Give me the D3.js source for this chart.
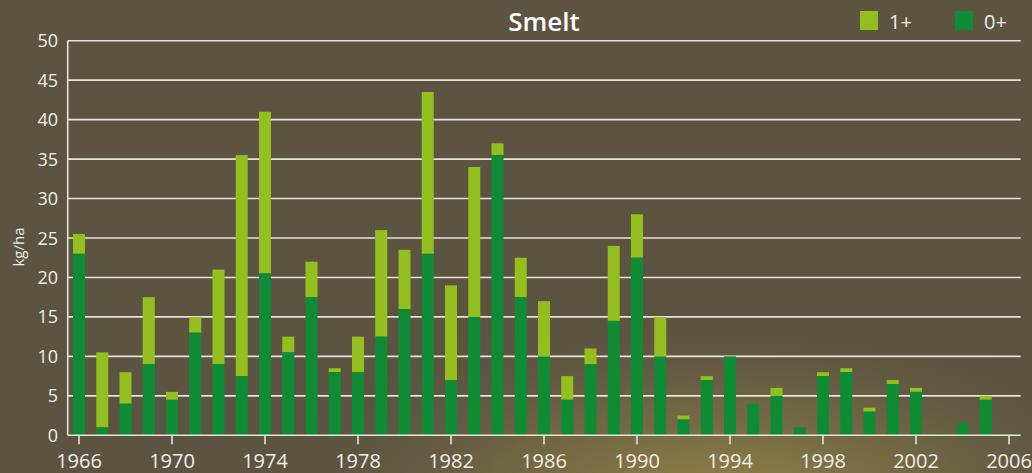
<!DOCTYPE html>
<html>
<head>
<meta charset="utf-8">
<script src="https://cdn.jsdelivr.net/npm/d3@7"></script>
<style>
  body { margin: 0; background: #5c5441; }
  svg { display: block; font-family: "Open Sans", sans-serif; }
</style>
</head>
<body>
<svg id="chart" width="1032" height="473"></svg>
<script>
// data (kg/ha)
var years = d3.range(1966, 2007);
var age0 = [23, 1, 4, 9, 4.5, 13, 9, 7.5, 20.5, 10.5, 17.5, 8, 8, 12.5, 16, 23, 7, 15, 35.5, 17.5,
  10, 4.5, 9, 14.5, 22.5, 10, 2, 7, 10, 4, 5, 1, 7.5, 8, 3, 6.5, 5.5, 0.2, 1.5, 4.5, 0.2];
var total = [25.5, 10.5, 8, 17.5, 5.5, 15, 21, 35.5, 41, 12.5, 22, 8.5, 12.5, 26, 23.5, 43.5, 19, 34, 37, 22.5,
  17, 7.5, 11, 24, 28, 15, 2.5, 7.5, 10, 4, 6, 1, 8, 8.5, 3.5, 7, 6, 0.2, 1.5, 5, 0.2];
var yTicks = d3.range(0, 51, 5);
var xTicks = d3.range(1966, 2007, 4);

var svg = d3.select("#chart");
var W = +svg.attr("width"), H = +svg.attr("height");

// background with the lighter glow at the bottom
var defs = svg.append("defs");
var glow = defs.append("radialGradient").attr("id", "glow")
  .attr("gradientUnits", "userSpaceOnUse")
  .attr("cx", 720).attr("cy", 500).attr("r", 460)
  .attr("gradientTransform", "translate(720 500) scale(1 0.42) translate(-720 -500)");
glow.append("stop").attr("offset", 0).attr("stop-color", "#958647").attr("stop-opacity", 1);
glow.append("stop").attr("offset", 0.5).attr("stop-color", "#7b6e45").attr("stop-opacity", 0.65);
glow.append("stop").attr("offset", 1).attr("stop-color", "#5c5441").attr("stop-opacity", 0);
svg.append("rect").attr("width", W).attr("height", H).attr("fill", "#5c5441");
svg.append("rect").attr("width", W).attr("height", H).attr("fill", "url(#glow)");

var x = d3.scaleLinear().domain([1966, 2006]).range([79, 1009]);
var y = d3.scaleLinear().domain([0, 50]).range([435.3, 40.7]);
var left = 67.7, right = 1020.7, barW = 12;

// gridlines
svg.append("g").selectAll("line").data(yTicks.slice(1)).join("line")
  .attr("x1", left).attr("x2", right)
  .attr("y1", function(d) { return y(d); }).attr("y2", function(d) { return y(d); })
  .attr("stroke", "#e6e3dc").attr("stroke-width", 1.6);

// y labels
svg.append("g").selectAll("text").data(yTicks).join("text")
  .attr("x", 58).attr("y", function(d) { return y(d) + 6.5; })
  .attr("text-anchor", "end").attr("font-size", 18).attr("fill", "#f0eee8")
  .text(function(d) { return d; });

// bars: 0+ at bottom, 1+ on top
var bars = svg.append("g");
bars.selectAll("rect.a1").data(years).join("rect").attr("class", "a1")
  .attr("x", function(d) { return x(d) - barW / 2; })
  .attr("width", barW)
  .attr("y", function(d, i) { return y(total[i]); })
  .attr("height", function(d, i) { return y(age0[i]) - y(total[i]); })
  .attr("fill", "#93c01f");
bars.selectAll("rect.a0").data(years).join("rect").attr("class", "a0")
  .attr("x", function(d) { return x(d) - barW / 2; })
  .attr("width", barW)
  .attr("y", function(d, i) { return y(age0[i]); })
  .attr("height", function(d, i) { return y(0) - y(age0[i]); })
  .attr("fill", "#0e8c35");

// axes lines
svg.append("line").attr("x1", left).attr("x2", left).attr("y1", y(50)).attr("y2", y(0))
  .attr("stroke", "#e6e3dc").attr("stroke-width", 1.6);
svg.append("line").attr("x1", left).attr("x2", right).attr("y1", y(0)).attr("y2", y(0))
  .attr("stroke", "#e6e3dc").attr("stroke-width", 1.6);

// x ticks
var xa = svg.append("g").selectAll("g").data(xTicks).join("g");
xa.append("line")
  .attr("x1", function(d) { return x(d); }).attr("x2", function(d) { return x(d); })
  .attr("y1", y(0)).attr("y2", y(0) + 9)
  .attr("stroke", "#e6e3dc").attr("stroke-width", 1.6);
xa.append("text")
  .attr("x", function(d) { return x(d); }).attr("y", 468)
  .attr("text-anchor", "middle").attr("font-size", 20).attr("fill", "#f0eee8")
  .text(function(d) { return d; });

// y axis title
svg.append("text").attr("transform", "translate(24,247) rotate(-90)")
  .attr("text-anchor", "middle").attr("font-size", 15).attr("fill", "#f0eee8")
  .text("kg/ha");

// title
svg.append("text").attr("x", 544).attr("y", 31)
  .attr("text-anchor", "middle").attr("font-size", 26).attr("font-weight", 600)
  .attr("fill", "#ffffff").text("Smelt");

// legend
var legend = [{ label: "1+", color: "#93c01f", x: 860 }, { label: "0+", color: "#0e8c35", x: 955 }];
var lg = svg.append("g").selectAll("g").data(legend).join("g");
lg.append("rect").attr("x", function(d) { return d.x; }).attr("y", 11)
  .attr("width", 18).attr("height", 19).attr("fill", function(d) { return d.color; });
lg.append("text").attr("x", function(d) { return d.x + 29; }).attr("y", 29)
  .attr("font-size", 20).attr("fill", "#f0eee8").text(function(d) { return d.label; });
</script>
</body>
</html>
